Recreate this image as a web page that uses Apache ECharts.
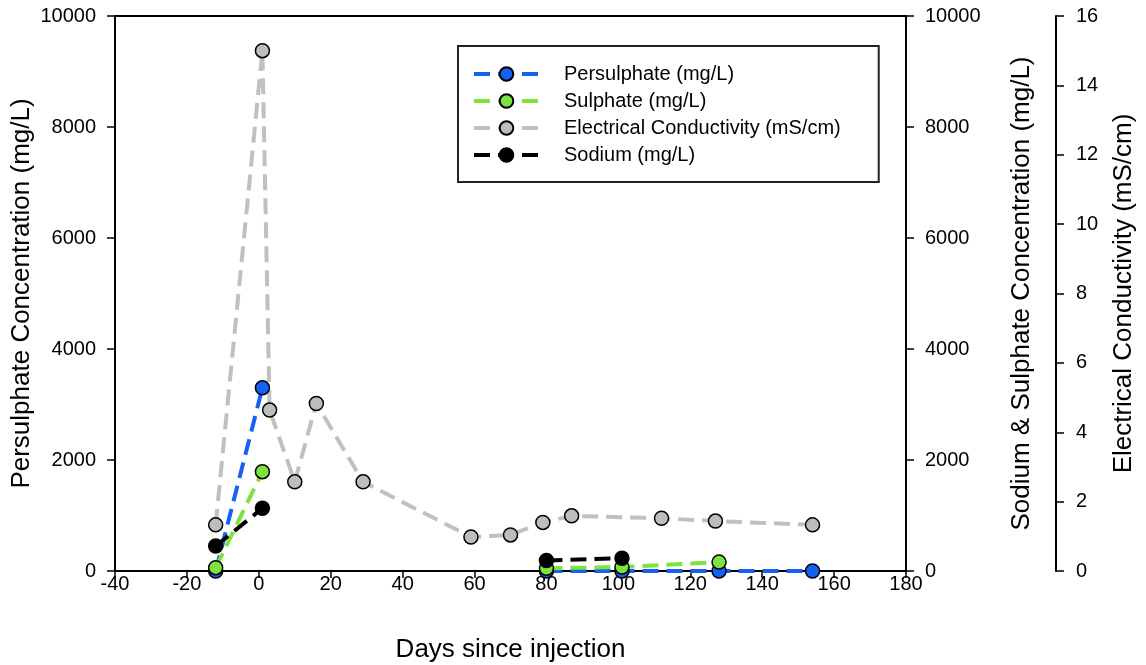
<!DOCTYPE html>
<html>
<head>
<meta charset="utf-8">
<script src="https://cdn.jsdelivr.net/npm/echarts@6/dist/echarts.min.js"></script>
<style>
  html, body { margin: 0; padding: 0; background: #fff; }
  #chart { width: 1146px; height: 665px; }
</style>
</head>
<body>
<div id="chart"></div>
<script>
// Monitoring results after persulphate injection (days since injection).
// null marks a sampling gap where the line is broken.
const persulphateDays   = [-12, 1, null, 80, 101, 128, 154];
const persulphateValues = [0, 3300, null, 0, 0, 0, 0];

const sulphateDays   = [-12, 1, null, 80, 101, 128];
const sulphateValues = [60, 1790, null, 50, 70, 160];

const sodiumDays   = [-12, 1, null, 80, 101];
const sodiumValues = [450, 1130, null, 190, 230];

const ecDays   = [-12, 1, 3, 10, 16, 29, 59, 70, 79, 87, 112, 127, 154];
const ecValues = [1.33, 15.0, 4.64, 2.57, 4.83, 2.57, 0.98, 1.04, 1.40, 1.59, 1.52, 1.44, 1.33];

const seriesNames = [
  'Persulphate (mg/L)',
  'Sulphate (mg/L)',
  'Electrical Conductivity (mS/cm)',
  'Sodium (mg/L)'
];

const FONT = 'Liberation Sans, Arial, sans-serif';

function pairs(days, values) {
  return days.map((d, i) => (d === null || values[i] === null) ? ['-', '-'] : [d, values[i]]);
}

function lineSeries(name, color, fill, yAxisIndex, data) {
  return {
    name: name,
    type: 'line',
    xAxisIndex: 0,
    yAxisIndex: yAxisIndex,
    data: data,
    connectNulls: false,
    symbol: 'circle',
    symbolSize: 14,
    showAllSymbol: true,
    lineStyle: { color: color, width: 4, type: [16, 8] },
    itemStyle: { color: fill, borderColor: '#000', borderWidth: 1.5 },
    emphasis: { disabled: true },
    animation: false
  };
}

const axisLineStyle = { color: '#000', width: 2 };
const tickStyle = { color: '#000', width: 1.5 };
const labelStyle = { color: '#000', fontSize: 20, fontFamily: FONT, formatter: v => String(v) };
const nameStyle = { color: '#000', fontSize: 26, fontFamily: FONT };

const chart = echarts.init(document.getElementById('chart'), null, { renderer: 'canvas' });

chart.setOption({
  backgroundColor: '#fff',
  animation: false,
  grid: { left: 115, right: 240, top: 16, bottom: 94, containLabel: false, outerBoundsMode: 'none' },
  legend: {
    data: seriesNames,
    orient: 'vertical',
    left: 458,
    top: 46,
    padding: [18, 38, 17, 14],
    itemWidth: 65,
    itemHeight: 17,
    itemGap: 7,
    borderColor: '#222',
    borderWidth: 2,
    backgroundColor: '#fff',
    lineStyle: { width: 4 },
    textStyle: { color: '#000', fontSize: 20, fontFamily: FONT, lineHeight: 17, padding: [0, 0, 0, 20] },
    selectedMode: false
  },
  xAxis: [
    {
      type: 'value', position: 'bottom', min: -40, max: 180, interval: 20,
      axisLine: { show: true, onZero: false, lineStyle: axisLineStyle },
      axisTick: { show: true, inside: false, length: 7, lineStyle: tickStyle },
      axisLabel: Object.assign({ margin: 3 }, labelStyle),
      splitLine: { show: false },
      name: 'Days since injection', nameLocation: 'middle', nameGap: 66, nameMoveOverlap: false,
      nameTextStyle: nameStyle
    },
    {
      type: 'value', position: 'top', min: -40, max: 180, interval: 20,
      axisLine: { show: true, onZero: false, lineStyle: axisLineStyle },
      axisTick: { show: false }, axisLabel: { show: false }, splitLine: { show: false }
    }
  ],
  yAxis: [
    {
      type: 'value', position: 'left', min: 0, max: 10000, interval: 2000,
      axisLine: { show: true, onZero: false, lineStyle: axisLineStyle },
      axisTick: { show: true, length: 8, lineStyle: tickStyle },
      axisLabel: Object.assign({ margin: 19 }, labelStyle),
      splitLine: { show: false },
      name: 'Persulphate Concentration (mg/L)', nameLocation: 'middle', nameGap: 80, nameMoveOverlap: false,
      nameTextStyle: nameStyle
    },
    {
      type: 'value', position: 'right', offset: 0, min: 0, max: 10000, interval: 2000,
      axisLine: { show: true, onZero: false, lineStyle: axisLineStyle },
      axisTick: { show: true, length: 8, lineStyle: tickStyle },
      axisLabel: Object.assign({ margin: 19 }, labelStyle),
      splitLine: { show: false },
      name: 'Sodium & Sulphate Concentration (mg/L)', nameLocation: 'middle', nameGap: 103, nameMoveOverlap: false,
      nameTextStyle: nameStyle
    },
    {
      type: 'value', position: 'right', offset: 150, min: 0, max: 16, interval: 2,
      axisLine: { show: true, onZero: false, lineStyle: axisLineStyle },
      axisTick: { show: true, length: 8, lineStyle: tickStyle },
      axisLabel: Object.assign({ margin: 20 }, labelStyle),
      splitLine: { show: false },
      name: 'Electrical Conductivity (mS/cm)', nameLocation: 'middle', nameGap: 55, nameMoveOverlap: false,
      nameTextStyle: nameStyle
    }
  ],
  series: [
    lineSeries(seriesNames[2], '#c0c0c0', '#bdbdbd', 2, pairs(ecDays, ecValues)),
    lineSeries(seriesNames[0], '#1560f5', '#1560f5', 0, pairs(persulphateDays, persulphateValues)),
    lineSeries(seriesNames[1], '#7de33f', '#7de33f', 1, pairs(sulphateDays, sulphateValues)),
    lineSeries(seriesNames[3], '#000000', '#000000', 1, pairs(sodiumDays, sodiumValues))
  ]
});
</script>
</body>
</html>
